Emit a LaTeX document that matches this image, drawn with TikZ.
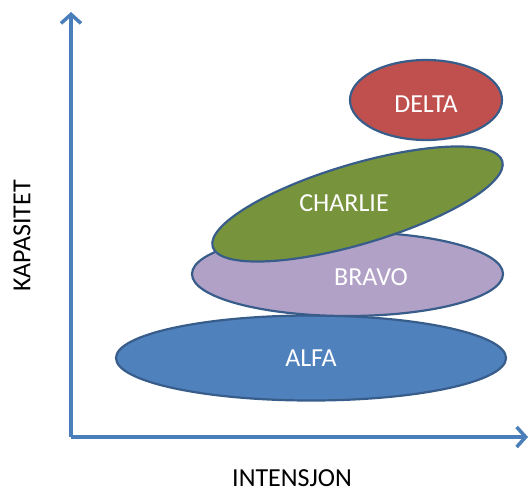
\documentclass[tikz,border=0pt]{standalone}
\usepackage{fontspec}
\setmainfont{Carlito}
\usetikzlibrary{shapes.geometric,arrows.meta}
\definecolor{axisblue}{HTML}{4A7EBB}
\definecolor{rimblue}{HTML}{385D8A}
\definecolor{alfafill}{HTML}{4F81BD}
\definecolor{bravofill}{HTML}{B2A1C7}
\definecolor{charliefill}{HTML}{77933C}
\definecolor{deltafill}{HTML}{C0504D}
\tikzset{
  axisline/.style={draw=axisblue, line width=3.5pt,
    -{Straight Barb[length=9pt,width=20pt,line width=3.5pt]}},
  blob/.style={ellipse, draw=rimblue, line width=2.2pt, inner sep=0pt},
  blobtext/.style={text=white, inner sep=0pt, font=\fontsize{26}{28}\selectfont},
  axistext/.style={text=black, inner sep=0pt, font=\fontsize{26}{28}\selectfont},
}
\begin{document}
\begin{tikzpicture}[x=1pt, y=-1pt]
  \useasboundingbox (0,0) rectangle (529,493);
  % axes
  \coordinate (origin) at (71,437);
  \coordinate (ytop) at (71,12);
  \coordinate (xend) at (528,437);
  \draw[axisline] (origin) -- (ytop);
  \draw[axisline] (origin) -- (xend);
  \node[axistext, rotate=90] (kap) at (22,236) {KAPASITET};
  \node[axistext] (int) at (292,478.5) {INTENSJON};
  % capacity blobs
  \node[blob, fill=alfafill, minimum width=390pt, minimum height=85pt] (alfa) at (311,358) {};
  \node[blob, fill=bravofill, minimum width=311pt, minimum height=84pt] (bravo) at (347.5,274) {};
  \node[blob, fill=deltafill, minimum width=152pt, minimum height=80pt] (delta) at (426,100) {};
  \node[blob, fill=charliefill, minimum width=302pt, minimum height=80pt, rotate=16.5] (charlie) at (357.5,204) {};
  % labels
  \node[blobtext] (alfalbl) at (311,358) {ALFA};
  \node[blobtext] (bravolbl) at (371,277) {BRAVO};
  \node[blobtext] (charlielbl) at (344,203) {CHARLIE};
  \node[blobtext] (deltalbl) at (426,104) {DELTA};
\end{tikzpicture}
\end{document}
